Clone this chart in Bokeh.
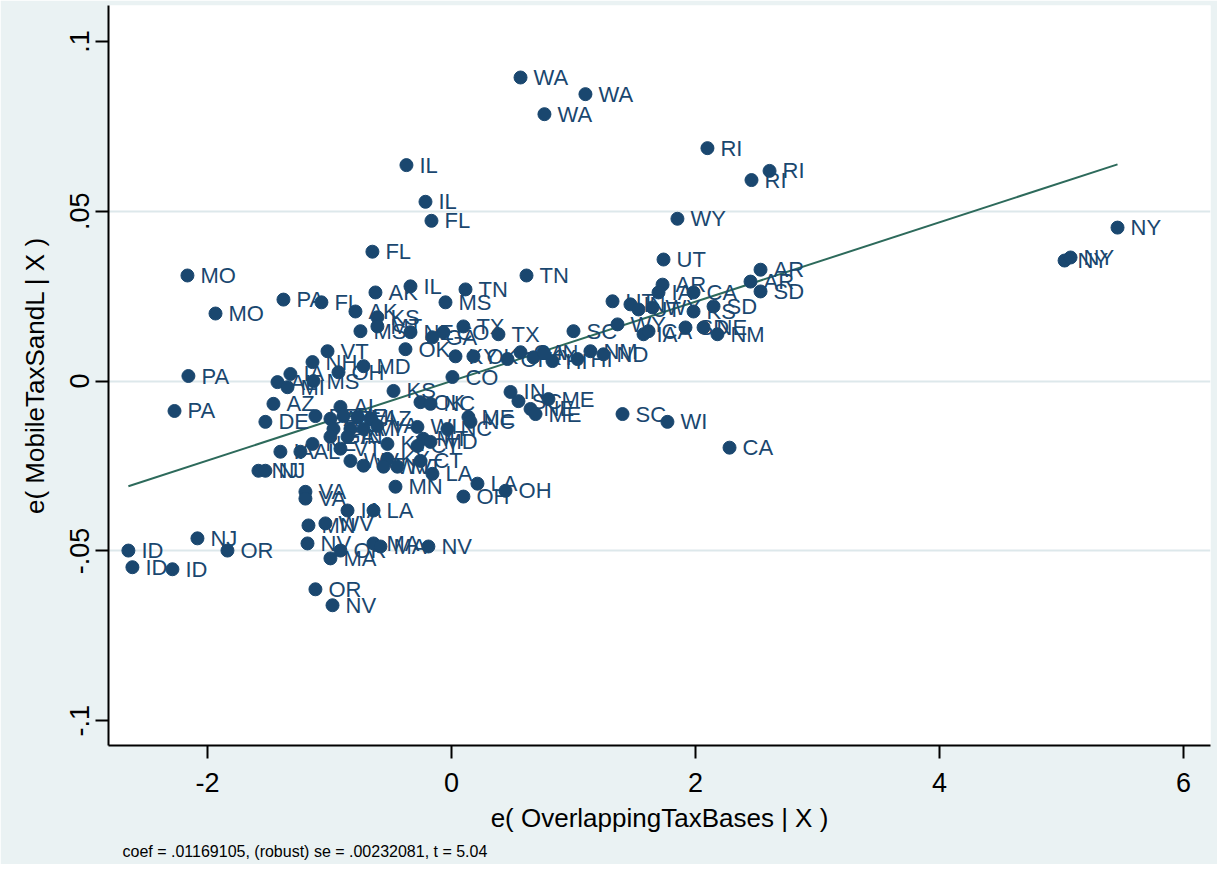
from bokeh.plotting import figure
from bokeh.models import ColumnDataSource, Range1d, FixedTicker, Title
from bokeh.embed import file_html
from bokeh.resources import INLINE
from bokeh.core.properties import value

# ---- data ----
state = [
    "WA", "WA", "WA", "RI", "RI", "RI", "IL", "IL", "FL", "WY", "FL",
    "NY", "NY", "NY", "UT", "MO", "MO", "PA", "FL", "AK", "IL", "TN", "TN",
    "MS", "AK", "KS", "MT", "MS", "NE", "GA", "CO", "TX", "TX", "OK", "KY",
    "OK", "VT", "NH", "MD", "OH", "CO", "OH", "GA", "KY", "IN", "HI", "SC",
    "HI", "NM", "ND", "AR", "IA", "CA", "UT", "IN", "UT", "WY", "KS", "SD",
    "WY", "IA", "CA", "SD", "NE", "NM", "AR", "AR", "SD", "IN", "SC", "NE",
    "ME", "ME", "SC", "WI", "CA", "ME", "NC", "AL", "MI", "IA", "MS", "KS",
    "OK", "NC", "AZ", "DE", "AL", "DE", "AZ", "NE", "MI", "AZ", "GA", "IA",
    "MI", "VA", "GA", "IN", "KY", "WI", "NC", "MT", "CT", "MD", "IA", "AL",
    "NE", "VT", "WV", "VT", "KY", "WV", "MT", "CT", "LA", "MN", "OH", "LA",
    "OH", "NJ", "NJ", "VA", "VA", "IA", "LA", "MN", "WV", "NV", "OR", "MA",
    "MA", "MA", "NV", "OR", "NV", "ID", "ID", "ID", "NJ", "OR", "PA", "PA",
]
e_overlap = [
    0.566, 1.098, 0.762, 2.098, 2.607, 2.459, -0.369, -0.213, -0.164, 1.852, -0.648,
    5.459, 5.025, 5.074, 1.738, -2.164, -1.934, -1.377, -1.066, -0.623, -0.336, 0.115, 0.615,
    -0.049, -0.787, -0.607, -0.607, -0.746, -0.336, -0.156, -0.066, 0.098, 0.385, -0.377, 0.033,
    0.180, -1.016, -1.139, -0.721, -0.926, 0.008, 0.459, 0.566, 0.672, 0.754, 0.828, 1.000,
    1.033, 1.139, 1.246, 1.730, 1.697, 1.984, 1.320, 1.467, 1.533, 1.648, 1.984, 2.148,
    1.361, 1.574, 1.615, 1.918, 2.066, 2.180, 2.533, 2.451, 2.533, 0.484, 0.549, 0.648,
    0.689, 0.795, 1.402, 1.770, 2.279, 0.139, 0.156, -1.426, -1.344, -1.320, -1.131, -0.475,
    -0.254, -0.172, -1.459, -1.525, -0.910, -1.115, -0.992, -0.885, -0.770, -0.664, -0.967, -0.828,
    -0.721, -0.607, -0.992, -0.852, -0.525, -0.279, -0.033, -0.230, -0.279, -0.172, -1.402, -1.238,
    -1.139, -0.910, -0.828, -0.721, -0.525, -0.557, -0.443, -0.254, -0.156, -0.459, 0.098, 0.213,
    0.443, -1.582, -1.525, -1.197, -1.197, -0.852, -0.639, -1.172, -1.033, -1.180, -0.910, -0.992,
    -0.639, -0.582, -0.189, -1.115, -0.975, -2.648, -2.615, -2.287, -2.082, -1.836, -2.156, -2.270,
]
e_mobile = [
    0.0894, 0.0845, 0.0786, 0.0686, 0.0619, 0.0592, 0.0636, 0.0528, 0.0472, 0.0478, 0.0381,
    0.0452, 0.0355, 0.0364, 0.0358, 0.0311, 0.0199, 0.0240, 0.0232, 0.0261, 0.0279, 0.0270, 0.0311,
    0.0232, 0.0205, 0.0188, 0.0161, 0.0147, 0.0144, 0.0129, 0.0144, 0.0161, 0.0138, 0.0094, 0.0073,
    0.0073, 0.0088, 0.0056, 0.0044, 0.0026, 0.0012, 0.0065, 0.0085, 0.0070, 0.0085, 0.0059, 0.0147,
    0.0065, 0.0088, 0.0079, 0.0284, 0.0261, 0.0261, 0.0235, 0.0226, 0.0211, 0.0217, 0.0205, 0.0220,
    0.0167, 0.0138, 0.0147, 0.0158, 0.0158, 0.0138, 0.0328, 0.0293, 0.0264, -0.0032, -0.0059, -0.0082,
    -0.0097, -0.0053, -0.0097, -0.0120, -0.0196, -0.0106, -0.0120, -0.0003, -0.0018, 0.0021, 0.0000, -0.0029,
    -0.0062, -0.0067, -0.0067, -0.0120, -0.0076, -0.0103, -0.0111, -0.0103, -0.0106, -0.0111, -0.0141, -0.0141,
    -0.0141, -0.0132, -0.0164, -0.0164, -0.0185, -0.0135, -0.0141, -0.0170, -0.0191, -0.0179, -0.0208, -0.0208,
    -0.0185, -0.0199, -0.0235, -0.0249, -0.0229, -0.0252, -0.0252, -0.0235, -0.0273, -0.0311, -0.0340, -0.0302,
    -0.0323, -0.0264, -0.0264, -0.0326, -0.0346, -0.0381, -0.0381, -0.0425, -0.0419, -0.0478, -0.0499, -0.0522,
    -0.0478, -0.0487, -0.0487, -0.0613, -0.0660, -0.0499, -0.0548, -0.0554, -0.0463, -0.0499, 0.0015, -0.0088,
]

coef = 0.01169105
coef_text = ".01169105"
se_text = ".00232081"
t_text = "5.04"

x_ticks = [-2, 0, 2, 4, 6]
x_tick_labels = ["-2", "0", "2", "4", "6"]
y_ticks = [-0.1, -0.05, 0, 0.05, 0.1]
y_tick_labels = ["-.1", "-.05", "0", ".05", ".1"]
y_grid = [-0.05, 0, 0.05]

x_title = "e( OverlappingTaxBases | X )"
y_title = "e( MobileTaxSandL | X )"
note = f"coef = {coef_text}, (robust) se = {se_text}, t = {t_text}"

# ---- styling ----
NAVY = "#1a476f"
FIT = "#2d6a5b"
BG = "#eaf2f3"
FONT = "Liberation Sans"

src = ColumnDataSource(dict(x=e_overlap, y=e_mobile, lab=state))

p = figure(
    frame_width=1102, frame_height=740,
    x_range=Range1d(-2.811, 6.221), y_range=Range1d(-0.1073, 0.1106),
    output_backend="svg", toolbar_location=None,
    min_border_left=108, min_border_right=7, min_border_top=5, min_border_bottom=118,
)
p.background_fill_color = "white"
p.border_fill_color = BG
p.outline_line_color = None

# fitted line
xs = [min(e_overlap), max(e_overlap)]
p.line(xs, [coef * v for v in xs], line_color=FIT, line_width=2)

p.scatter("x", "y", source=src, size=13, fill_color=NAVY, line_color=NAVY)
p.text("x", "y", text="lab", source=src, x_offset=13, text_baseline="middle",
       text_align="left", text_font=value(FONT), text_font_size="22px", text_color=NAVY)

# axes
for ax in (p.xaxis[0], p.yaxis[0]):
    ax.axis_line_color = "black"
    ax.axis_line_width = 2
    ax.major_tick_line_color = "black"
    ax.major_tick_line_width = 2
    ax.major_tick_out = 13
    ax.major_tick_in = 0
    ax.minor_tick_line_color = None
    ax.major_label_text_font = FONT
    ax.major_label_text_font_size = "27px"
    ax.major_label_text_color = "black"
    ax.axis_label_text_font = FONT
    ax.axis_label_text_font_size = "26px"
    ax.axis_label_text_font_style = "normal"
    ax.axis_label_text_color = "black"

p.xaxis.ticker = FixedTicker(ticks=x_ticks)
p.xaxis.major_label_overrides = dict(zip(x_ticks, x_tick_labels))
p.yaxis.ticker = FixedTicker(ticks=y_ticks)
p.yaxis.major_label_overrides = dict(zip(y_ticks, y_tick_labels))
p.yaxis.major_label_orientation = "vertical"
p.xaxis.axis_label = x_title
p.yaxis.axis_label = y_title
p.xaxis.major_label_standoff = 14
p.xaxis.axis_label_standoff = 8
p.yaxis.major_label_standoff = 6
p.yaxis.axis_label_standoff = 18

p.xgrid.visible = False
p.ygrid.ticker = FixedTicker(ticks=y_grid)
p.ygrid.grid_line_color = "#dde8eb"
p.ygrid.grid_line_width = 2

p.add_layout(Title(text=note, align="left", offset=14, text_font=FONT,
                   text_font_size="16px", text_font_style="normal",
                   text_color="black"), "below")

open("out.html", "w").write(file_html(p, INLINE))
